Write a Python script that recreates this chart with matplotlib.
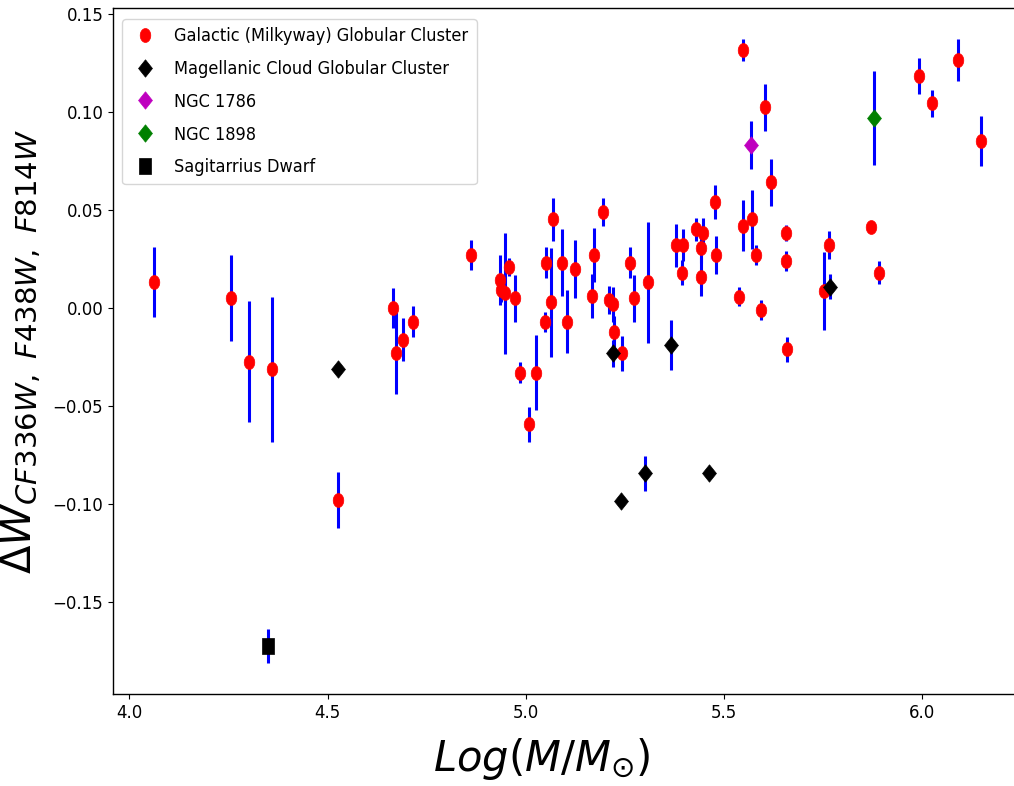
import numpy as np
import matplotlib
matplotlib.use("Agg")
import matplotlib.pyplot as plt
from matplotlib.path import Path

# ---------------- data ----------------
# Galactic (Milky Way) globular clusters
gal_logm = [4.063, 4.257, 4.301, 4.361, 4.525, 4.665, 4.673, 4.690, 4.715, 4.862,
            4.936, 4.938, 4.948, 4.957, 4.972, 4.986, 5.008, 5.025, 5.048, 5.052,
            5.064, 5.068, 5.090, 5.103, 5.124, 5.168, 5.172, 5.195, 5.211, 5.221,
            5.222, 5.242, 5.264, 5.274, 5.307, 5.378, 5.396, 5.393, 5.428, 5.448,
            5.442, 5.442, 5.478, 5.480, 5.537, 5.548, 5.549, 5.570, 5.580, 5.594,
            5.603, 5.618, 5.656, 5.656, 5.658, 5.751, 5.765, 5.870, 5.891, 5.992,
            6.025, 6.089, 6.149]
gal_dw = [0.0133, 0.0049, -0.0274, -0.0313, -0.0980, 0.0000, -0.0230, -0.0163, -0.0070, 0.0270,
          0.0143, 0.0092, 0.0075, 0.0210, 0.0049, -0.0330, -0.0594, -0.0330, -0.0073, 0.0231,
          0.0029, 0.0452, 0.0231, -0.0070, 0.0199, 0.0061, 0.0270, 0.0490, 0.0041, 0.0019,
          -0.0120, -0.0231, 0.0231, 0.0049, 0.0131, 0.0321, 0.0321, 0.0180, 0.0401, 0.0381,
          0.0308, 0.0160, 0.0542, 0.0270, 0.0058, 0.0420, 0.1316, 0.0452, 0.0270, -0.0010,
          0.1024, 0.0641, 0.0381, 0.0240, -0.0211, 0.0087, 0.0321, 0.0412, 0.0180, 0.1184,
          0.1044, 0.1265, 0.0854]
gal_err = [0.0180, 0.0220, 0.0310, 0.0370, 0.0145, 0.0100, 0.0210, 0.0110, 0.0080, 0.0077,
           0.0128, 0.0060, 0.0310, 0.0047, 0.0119, 0.0055, 0.0090, 0.0190, 0.0050, 0.0079,
           0.0279, 0.0110, 0.0170, 0.0160, 0.0150, 0.0110, 0.0138, 0.0070, 0.0070, 0.0090,
           0.0080, 0.0090, 0.0078, 0.0120, 0.0310, 0.0110, 0.0080, 0.0064, 0.0060, 0.0080,
           0.0080, 0.0101, 0.0087, 0.0099, 0.0050, 0.0130, 0.0057, 0.0150, 0.0051, 0.0050,
           0.0120, 0.0120, 0.0040, 0.0050, 0.0064, 0.0200, 0.0070, 0.0030, 0.0060, 0.0090,
           0.0068, 0.0108, 0.0127]

# Magellanic Cloud globular clusters
mc_logm = [4.525, 5.221, 5.240, 5.301, 5.365, 5.461, 5.766]
mc_dw = [-0.0310, -0.0231, -0.0985, -0.0844, -0.0189, -0.0844, 0.0109]
mc_err = [0.0020, 0.0070, 0.0020, 0.0090, 0.0130, 0.0020, 0.0064]

# Individual objects
ngc1786_logm, ngc1786_dw, ngc1786_err = [5.569], [0.0832], [0.0123]
ngc1898_logm, ngc1898_dw, ngc1898_err = [5.879], [0.0968], [0.0240]
sgr_logm, sgr_dw, sgr_err = [4.350], [-0.1724], [0.0088]

labels = ["Galactic (Milkyway) Globular Cluster",
          "Magellanic Cloud Globular Cluster",
          "NGC 1786", "NGC 1898", "Sagitarrius Dwarf"]
xticks = [4.0, 4.5, 5.0, 5.5, 6.0]
yticks = [-0.15, -0.10, -0.05, 0.00, 0.05, 0.10, 0.15]

# ---------------- style ----------------
plt.rcParams["font.family"] = ["DejaVu Sans"]
plt.rcParams["mathtext.fontset"] = "dejavusans"

t = np.linspace(0, 2 * np.pi, 73)
ellipse = Path(np.column_stack([0.38 * np.cos(t), 0.5 * np.sin(t)]), closed=True)
diamond = Path([[0, 0.5], [0.40, 0], [0, -0.5], [-0.40, 0], [0, 0.5]], closed=True)
square = Path([[-0.37, -0.5], [0.37, -0.5], [0.37, 0.5], [-0.37, 0.5], [-0.37, -0.5]], closed=True)

W, H = 1014, 786
fig = plt.figure(figsize=(W / 100, H / 100), dpi=100)
ax_l, ax_r, ax_t, ax_b = 113, 1022.7, 7.7, 694.3
aw, ah = ax_r - ax_l, ax_b - ax_t
ax = fig.add_axes([ax_l / W, 1 - ax_b / H, aw / W, ah / H])

groups = [
    (gal_logm, gal_dw, gal_err, ellipse, 10.0, "red"),
    (mc_logm, mc_dw, mc_err, diamond, 12.5, "black"),
    (ngc1786_logm, ngc1786_dw, ngc1786_err, diamond, 12.5, "#bf00bf"),
    (ngc1898_logm, ngc1898_dw, ngc1898_err, diamond, 12.5, "green"),
    (sgr_logm, sgr_dw, sgr_err, square, 11.0, "black"),
]
for (x, y, e, m, ms, c), lab in zip(groups, labels):
    ax.errorbar(x, y, yerr=e, fmt="none", ecolor="blue", elinewidth=2.2, capsize=0, zorder=2)
    ax.plot(x, y, ls="none", marker=m, ms=ms, color=c, mec=c, mew=0.5, label=lab, zorder=3)

ax.set_xticks(xticks)
ax.set_yticks(yticks)
ax.set_xticklabels([f"{v:.1f}" for v in xticks])
ax.tick_params(labelsize=12)
for s in ax.spines.values():
    s.set_linewidth(1.0)
ax.spines["right"].set_visible(False)

ax.set_xlabel(r"$Log(M/M_{\odot})$", fontsize=30)
ax.xaxis.set_label_coords((542 - ax_l) / aw, -(736 - ax_b) / ah)
ax.set_ylabel(r"$\Delta W_{CF336W,\ F438W,\ F814W}$", fontsize=30)
ax.yaxis.set_label_coords((43 - ax_l) / aw, 0.5)

leg = ax.legend(loc="upper left",
                bbox_to_anchor=((122 - ax_l) / aw, 1 - (19 - ax_t) / ah),
                borderaxespad=0, handlelength=1.65, handletextpad=0.8,
                borderpad=0.45, labelspacing=0.82, numpoints=1, frameon=True,
                prop={"family": ["DejaVu Sans Condensed", "DejaVu Sans"],
                      "stretch": "condensed", "size": 13})

fig.savefig("out.png", dpi=100)
